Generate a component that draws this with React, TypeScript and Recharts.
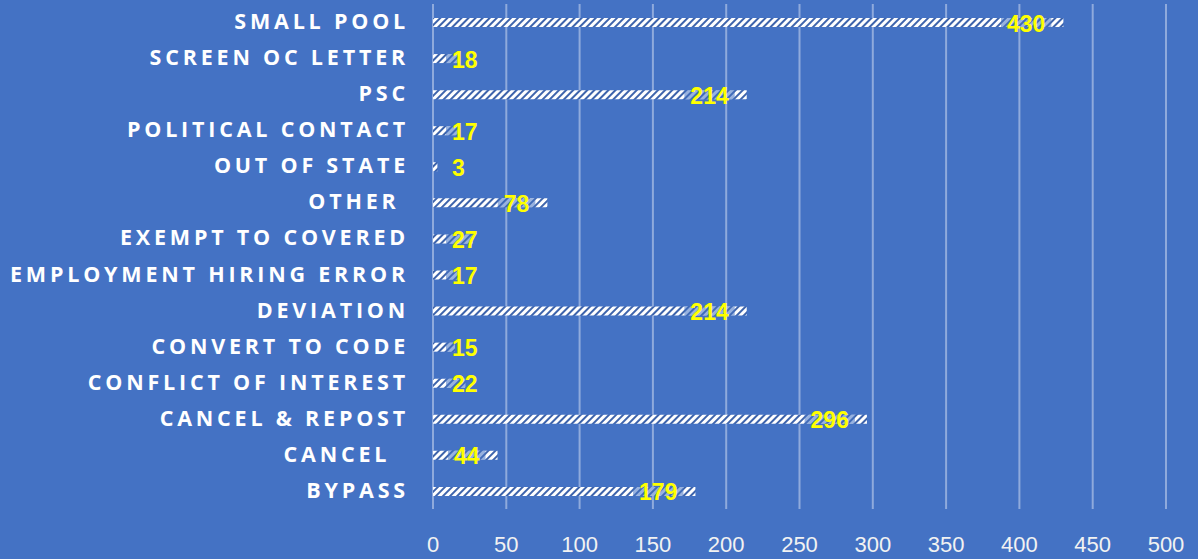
import { Bar, BarChart, CartesianGrid, LabelList, XAxis, YAxis } from "recharts";

const categories = [
  "SMALL POOL",
  "SCREEN OC LETTER",
  "PSC",
  "POLITICAL CONTACT",
  "OUT OF STATE",
  "OTHER ",
  "EXEMPT TO COVERED",
  "EMPLOYMENT HIRING ERROR",
  "DEVIATION",
  "CONVERT TO CODE",
  "CONFLICT OF INTEREST",
  "CANCEL & REPOST",
  "CANCEL  ",
  "BYPASS",
];
const counts = [430, 18, 214, 17, 3, 78, 27, 17, 214, 15, 22, 296, 44, 179];
const xTicks = [0, 50, 100, 150, 200, 250, 300, 350, 400, 450, 500];

const data = categories.map((name, i) => ({ name, count: counts[i] }));

const BG = "#4472C4";

// category tick: bold caps with wide letter spacing
const CategoryTick = (props: any) => {
  const { x, y, payload } = props;
  return (
    <text
      x={x - 16}
      y={y}
      dy={7}
      textAnchor="end"
      fill="#fff"
      fontFamily="'Open Sans', sans-serif"
      fontWeight="bold"
      fontSize={21.5}
      letterSpacing={3.8}
      style={{ whiteSpace: "pre" }}
    >
      {payload.value}
    </text>
  );
};

// value label sits just inside the bar end, pushed right for short bars
const ValueLabel = (props: any) => {
  const { x, y, width, height, value } = props;
  const fs = 23;
  const w = String(value).length * fs * 0.556;
  let left = x + width - 18 - w;
  if (left < x + 19) left = x + 19;
  const cy = y + height / 2;
  return (
    <g>
      <rect
        x={left - 6}
        y={y}
        width={Math.min(w + 12, Math.max(0, x + width - left + 6))}
        height={height}
        fill={BG}
        opacity={0.55}
      />
      <text
        x={left}
        y={cy}
        dy={9}
        fill="#FFFF00"
        fontFamily="'Liberation Sans', Arial, sans-serif"
        fontWeight="bold"
        fontSize={fs}
      >
        {value}
      </text>
    </g>
  );
};

export default function App() {
  return (
    <div style={{ position: "absolute", left: 0, top: 0, background: BG }}>
      <BarChart
        width={1198}
        height={559}
        data={data}
        layout="vertical"
        margin={{ top: 4, right: 32, bottom: 0, left: 0 }}
        barCategoryGap={0}
      >
        <defs>
          <pattern
            id="stripes"
            width={5}
            height={5}
            patternUnits="userSpaceOnUse"
            patternTransform="rotate(45)"
          >
            <rect width={5} height={5} fill="#3d63ab" />
            <rect width={3} height={5} fill="#ffffff" />
          </pattern>
        </defs>
        <CartesianGrid
          horizontal={false}
          stroke="#8faadc"
          strokeWidth={2}
        />
        <XAxis
          type="number"
          domain={[0, 500]}
          ticks={xTicks}
          axisLine={false}
          tickLine={false}
          tickSize={0}
          tickMargin={27}
          height={50}
          tick={{ fill: "#f2f2f2", fontSize: 22, fontFamily: "'Liberation Sans', Arial, sans-serif" }}
        />
        <YAxis
          type="category"
          dataKey="name"
          width={433}
          axisLine={false}
          tickLine={false}
          tick={<CategoryTick />}
        />
        <Bar dataKey="count" fill="url(#stripes)" barSize={9} isAnimationActive={false}>
          <LabelList dataKey="count" content={<ValueLabel />} />
        </Bar>
      </BarChart>
    </div>
  );
}
